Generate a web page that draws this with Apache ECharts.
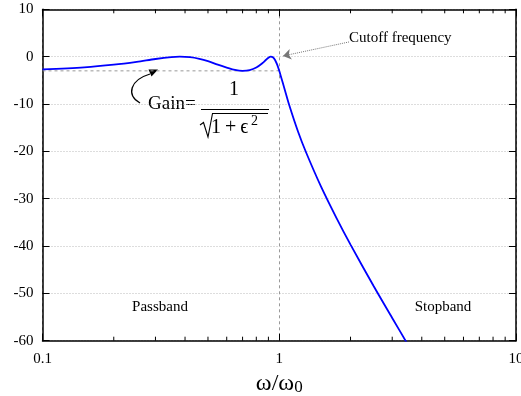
<!DOCTYPE html>
<html>
<head>
<meta charset="utf-8">
<script src="https://cdn.jsdelivr.net/npm/echarts@6/dist/echarts.min.js"></script>
<style>
  html, body { margin: 0; padding: 0; background: #fff; }
  #chart { width: 521px; height: 396px; }
</style>
</head>
<body>
<div id="chart"></div>
<script>
// frequency response (omega/omega0 vs dB)
const freq = [0.1, 0.15, 0.2, 0.25, 0.3, 0.35, 0.38, 0.42, 0.46, 0.5, 0.55, 0.6, 0.65, 0.7, 0.75, 0.8, 0.85, 0.88,
  0.9, 0.92, 0.94, 0.96, 0.98, 1.0, 1.02, 1.05, 1.1, 1.2, 1.3, 1.5, 1.75, 2, 2.5, 3, 3.5];
const gainDb = [-2.7, -2.25, -1.7, -1.1, -0.5, -0.1, 0, -0.1, -0.45, -0.95, -1.7, -2.3, -2.8, -3.0, -2.85, -2.3, -1.35, -0.65,
  -0.25, 0, -0.13, -0.7, -1.7, -3.0, -4.45, -6.6, -10.1, -15.8, -20.3, -27.4, -34.2, -39.7, -48.4, -55.2, -60.9];

// -3 dB ripple level, passband part
const rippleFreq = [0.1, 1];
const rippleDb = [-3, -3];

// cutoff arrow, from text to the corner point
const cutoffArrowFrom = [1.97, 3.1];
const cutoffArrowTo = [1.037, 0.14];

const minorTicks = [0.2, 0.3, 0.4, 0.5, 0.6, 0.7, 0.8, 0.9, 2, 3, 4, 5, 6, 7, 8, 9];
const yMin = -60, yMax = 10, yStep = 10;
const xMin = 0.1, xMax = 10;

const serif = '"Liberation Serif", "DejaVu Serif", serif';

const chart = echarts.init(document.getElementById('chart'), null, { renderer: 'canvas' });

const xBase = {
  type: 'log', logBase: 10, min: xMin, max: xMax,
  axisLine: { show: true, onZero: false, lineStyle: { color: '#000', width: 1.5 } },
  axisTick: { show: true, inside: true, length: 7, lineStyle: { color: '#000', width: 1 } },
  minorTick: { show: false }
};
const yBase = {
  type: 'value', min: yMin, max: yMax, interval: yStep,
  axisLine: { show: true, lineStyle: { color: '#000', width: 1.5 } },
  axisTick: { show: true, inside: true, length: 7, lineStyle: { color: '#000', width: 1 } }
};

const option = {
  animation: false,
  backgroundColor: '#fff',
  grid: { left: 42.5, right: 5, top: 9.3, bottom: 55.3, containLabel: false, outerBoundsMode: 'none' },
  xAxis: [
    Object.assign({}, xBase, {
      position: 'bottom',
      axisLabel: {
        color: '#000', fontFamily: serif, fontSize: 15, margin: 11,
        formatter: v => String(+(+v).toPrecision(3))
      },
      splitLine: { show: true, lineStyle: { color: '#999', type: [3, 3], width: 1 } },
      name: '{w|ω/ω}{s|0}',
      nameLocation: 'middle',
      nameGap: 23,
      nameTextStyle: {
        rich: {
          w: { fontFamily: serif, fontSize: 24, color: '#000', verticalAlign: 'bottom', lineHeight: 26 },
          s: { fontFamily: serif, fontSize: 17, color: '#000', verticalAlign: 'bottom', lineHeight: 26 }
        }
      }
    }),
    Object.assign({}, xBase, {
      position: 'top',
      axisLabel: { show: false },
      splitLine: { show: false }
    })
  ],
  yAxis: [
    Object.assign({}, yBase, {
      position: 'left',
      axisLabel: { color: '#000', fontFamily: serif, fontSize: 15, margin: 9 },
      splitLine: { show: true, lineStyle: { color: '#bbb', type: [1, 2], width: 1 } }
    }),
    Object.assign({}, yBase, {
      position: 'right',
      axisLabel: { show: false },
      splitLine: { show: false }
    })
  ],
  series: [
    {
      name: 'ripple',
      type: 'line',
      data: rippleFreq.map((f, i) => [f, rippleDb[i]]),
      showSymbol: false,
      lineStyle: { color: '#999', width: 1, type: [3, 3] },
      z: 2,
      silent: true,
      markLine: {
        silent: true,
        symbol: ['none', 'arrow'],
        symbolSize: 8,
        label: { show: false },
        lineStyle: { color: '#777', width: 1, type: [1, 1] },
        itemStyle: { color: '#333' },
        data: [[{ coord: cutoffArrowFrom }, { coord: cutoffArrowTo }]]
      }
    },
    {
      name: 'gain',
      type: 'line',
      data: freq.map((f, i) => [f, gainDb[i]]),
      showSymbol: false,
      smooth: 0.3,
      lineStyle: { color: '#0000ff', width: 1.8 },
      z: 3
    },
    {
      // log-axis minor ticks (2..9 of each decade), top and bottom
      type: 'custom',
      data: minorTicks.map(v => [v, yMin]),
      encode: { x: 0, y: 1 },
      clip: false,
      silent: true,
      z: 6,
      renderItem: function (params, api) {
        const v = api.value(0);
        const b = api.coord([v, yMin]);
        const t = api.coord([v, yMax]);
        return {
          type: 'group',
          children: [
            { type: 'line', shape: { x1: b[0], y1: b[1], x2: b[0], y2: b[1] - 4 }, style: { stroke: '#000', lineWidth: 1 } },
            { type: 'line', shape: { x1: t[0], y1: t[1], x2: t[0], y2: t[1] + 4 }, style: { stroke: '#000', lineWidth: 1 } }
          ]
        };
      }
    }
  ],
  graphic: [
    { type: 'text', x: 349, y: 38, style: { text: 'Cutoff frequency', font: '15px ' + serif, fill: '#000', verticalAlign: 'middle' } },
    { type: 'text', x: 160, y: 307, style: { text: 'Passband', font: '15px ' + serif, fill: '#000', align: 'center', verticalAlign: 'middle' } },
    { type: 'text', x: 443, y: 307, style: { text: 'Stopband', font: '15px ' + serif, fill: '#000', align: 'center', verticalAlign: 'middle' } },
    // Gain = 1 / sqrt(1 + eps^2)
    { type: 'text', x: 148, y: 104, style: { text: 'Gain=', font: '19px ' + serif, fill: '#000', verticalAlign: 'middle' } },
    { type: 'text', x: 234, y: 90, style: { text: '1', font: '20px ' + serif, fill: '#000', align: 'center', verticalAlign: 'middle' } },
    { type: 'line', shape: { x1: 201, y1: 109.5, x2: 269, y2: 109.5 }, style: { stroke: '#000', lineWidth: 1 } },
    { type: 'polyline', shape: { points: [[200, 125], [203.5, 122.5], [208, 137], [212.5, 113.5], [268, 113.5]] }, style: { stroke: '#000', lineWidth: 1.1, fill: null } },
    { type: 'text', x: 211, y: 128, style: { text: '1\u2009+\u2009ϵ', font: '20px ' + serif, fill: '#000', verticalAlign: 'middle' } },
    { type: 'text', x: 251, y: 121, style: { text: '2', font: '14px ' + serif, fill: '#000', verticalAlign: 'middle' } },
    // curved arrow pointing to the -3 dB line
    { type: 'bezierCurve', shape: { x1: 140, y1: 103, cpx1: 126, cpy1: 95, cpx2: 130, cpy2: 80, x2: 150, y2: 74 }, style: { stroke: '#000', lineWidth: 1.3, fill: null } },
    { type: 'polygon', shape: { points: [[158, 69.5], [151.5, 76.5], [148.5, 69.5]] }, style: { fill: '#000' } }
  ]
};

chart.setOption(option);
</script>
</body>
</html>
